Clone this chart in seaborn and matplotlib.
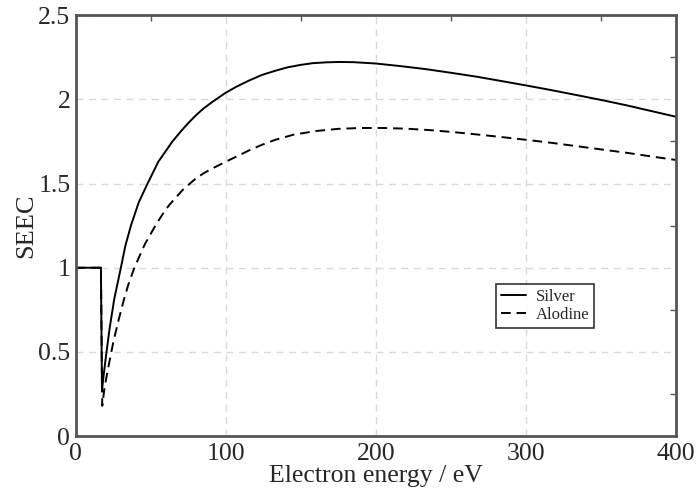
import numpy as np
import pandas as pd
import matplotlib
matplotlib.use("Agg")
import matplotlib.pyplot as plt
import seaborn as sns
from matplotlib.ticker import MultipleLocator

# values
silver_energy = [0, 16.7, 17.4, 18.5, 20, 22.5, 25.5, 30, 33, 36.7, 42, 47.8, 55, 64.4, 70, 75, 80, 85, 91,
                 100, 107, 115, 124, 133, 141, 150, 158, 167, 175, 185, 200, 217, 233, 250, 267, 283,
                 300, 317, 333, 350, 367, 383, 400]
silver_seec = [1.0, 1.0, 0.27, 0.36, 0.47, 0.64, 0.81, 1.0, 1.13, 1.25, 1.39, 1.5, 1.63, 1.75, 1.81, 1.86,
               1.905, 1.945, 1.985, 2.04, 2.075, 2.11, 2.145, 2.17, 2.19, 2.205, 2.215, 2.22, 2.222, 2.221,
               2.213, 2.197, 2.18, 2.158, 2.135, 2.11, 2.083, 2.055, 2.027, 1.997, 1.965, 1.932, 1.897]

alodine_energy = [0, 16.7, 17.6, 19, 21, 25, 28.5, 32, 35, 39, 46, 53, 58, 62, 67, 71, 76, 80, 85, 90,
                  100, 107, 115, 124, 133, 145, 160, 175, 190, 205, 220, 235, 250, 267, 283, 300, 317,
                  333, 350, 367, 383, 400]
alodine_seec = [1.0, 1.0, 0.18, 0.28, 0.38, 0.56, 0.69, 0.81, 0.9, 1.0, 1.14, 1.25, 1.32, 1.37, 1.42, 1.46,
                1.5, 1.53, 1.56, 1.585, 1.63, 1.66, 1.695, 1.73, 1.76, 1.79, 1.812, 1.825, 1.83, 1.83,
                1.826, 1.818, 1.807, 1.792, 1.777, 1.76, 1.742, 1.723, 1.703, 1.683, 1.662, 1.64]

x_ticks = [0, 100, 200, 300, 400]
y_ticks = [0, 0.5, 1, 1.5, 2, 2.5]
y_tick_labels = ["0", "0.5", "1", "1.5", "2", "2.5"]

df = pd.concat([
    pd.DataFrame({"energy": silver_energy, "seec": silver_seec, "material": "Silver"}),
    pd.DataFrame({"energy": alodine_energy, "seec": alodine_seec, "material": "Alodine"}),
])

sns.set_style("white")
plt.rcParams["font.family"] = ["Liberation Serif", "DejaVu Serif"]

fig = plt.figure(figsize=(6.96, 4.9), dpi=100)
ax = fig.add_axes([0.109, 0.110, 0.862, 0.859])

sns.lineplot(data=df, x="energy", y="seec", style="material", color="black",
             dashes={"Silver": "", "Alodine": (5, 3)}, linewidth=1.4,
             sort=False, estimator=None, ax=ax)

ax.set_xlim(0, 400)
ax.set_ylim(0, 2.5)
ax.set_xticks(x_ticks)
ax.set_xticklabels([str(t) for t in x_ticks])
ax.set_yticks(y_ticks)
ax.set_yticklabels(y_tick_labels)
ax.xaxis.set_minor_locator(MultipleLocator(50))
ax.yaxis.set_minor_locator(MultipleLocator(0.25))
ax.grid(True, which="major", color="#d9d9d9", linestyle=(0, (5, 4)), linewidth=1)
ax.tick_params(which="both", direction="in", top=True, right=True, labelsize=18.5)
ax.tick_params(axis="y", pad=4)
ax.tick_params(axis="x", pad=5)
ax.tick_params(which="major", length=0)
ax.tick_params(which="minor", length=4, width=1, color="#555555")
for s in ax.spines.values():
    s.set_color("#555555")
    s.set_linewidth(2)

ax.set_xlabel("Electron energy / eV", fontsize=18.5, labelpad=0)
ax.set_ylabel("SEEC", fontsize=19, labelpad=1)

leg = ax.legend(loc="lower left", bbox_to_anchor=(0.70, 0.257), fontsize=12, frameon=True,
                fancybox=False, edgecolor="black", handlelength=1.5, borderpad=0.3,
                labelspacing=0.1, handletextpad=0.6, borderaxespad=0)
leg.get_frame().set_linewidth(1.2)
leg.set_title(None)

fig.savefig("out.png", dpi=100)
